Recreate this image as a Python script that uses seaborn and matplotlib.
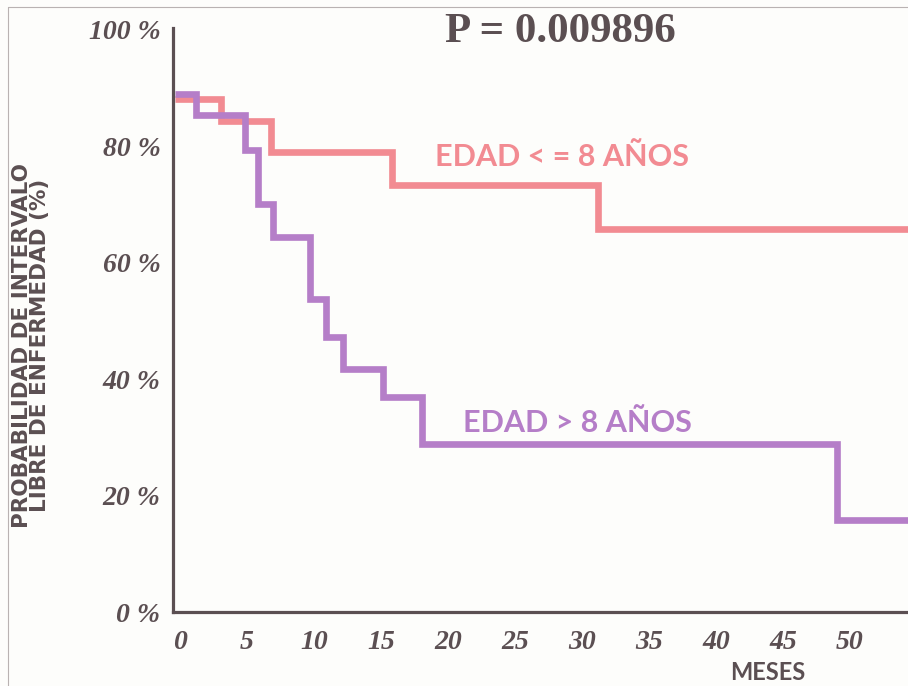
import matplotlib
matplotlib.use("Agg")
import matplotlib.pyplot as plt
import matplotlib.transforms as mtransforms
from matplotlib.lines import Line2D
import seaborn as sns
import pandas as pd

# ---- data ----
young_months = [0, 3.4, 7.2, 16.2, 31.6, 55]
young_surv = [88.1, 84.4, 79.0, 73.4, 65.8, 65.8]
old_months = [0, 1.6, 5.2, 6.2, 7.3, 10.1, 11.3, 12.5, 15.5, 18.4, 49.4, 55]
old_surv = [89.0, 85.4, 79.4, 70.0, 64.4, 53.8, 47.3, 41.8, 36.9, 28.9, 15.8, 15.8]
group_labels = ["EDAD < = 8 AÑOS", "EDAD > 8 AÑOS"]
x_ticks = [0, 5, 10, 15, 20, 25, 30, 35, 40, 45, 50]
y_ticks = [0, 20, 40, 60, 80, 100]
y_tick_labels = ["0 %", "20 %", "40 %", "60 %", "80 %", "100 %"]
p_text = "P = 0.009896"

pink = "#f28b92"
purple = "#b57ec8"
ink = "#5b4f52"

df = pd.concat([
    pd.DataFrame({"meses": young_months, "prob": young_surv, "grupo": group_labels[0]}),
    pd.DataFrame({"meses": old_months, "prob": old_surv, "grupo": group_labels[1]}),
], ignore_index=True)

sns.set_theme(style="white")
fig = plt.figure(figsize=(9.08, 6.86), dpi=100, facecolor="#fdfdfb")
ax = fig.add_axes([173/908, 74/686, (908-173)/908, (612-28)/686])
ax.set_facecolor("#fdfdfb")

sns.lineplot(data=df, x="meses", y="prob", hue="grupo",
             palette={group_labels[0]: pink, group_labels[1]: purple},
             drawstyle="steps-post", linewidth=4.8, legend=False, ax=ax,
             estimator=None, sort=False)
for ln in ax.lines:
    ln.set_solid_joinstyle("miter")
    ln.set_solid_capstyle("butt")

ax.set_xlim(-0.15, 54.7)
ax.set_ylim(0, 100.3)

for s in ["top", "right"]:
    ax.spines[s].set_visible(False)
for s in ["left", "bottom"]:
    ax.spines[s].set_color(ink)
    ax.spines[s].set_linewidth(2.3)

tick_font = dict(family="Liberation Serif", weight="bold", style="italic", size=20)
ax.set_xticks(x_ticks)
ax.set_xticklabels([str(t) for t in x_ticks], color=ink, **tick_font)
ax.set_yticks(y_ticks)
ax.set_yticklabels(y_tick_labels, color=ink, **tick_font)
ax.tick_params(axis="both", length=0)
ax.tick_params(axis="x", pad=13)
ax.tick_params(axis="y", pad=9)
off = mtransforms.ScaledTranslation(5/100, 0, fig.dpi_scale_trans)
for lbl in ax.get_xticklabels():
    lbl.set_transform(lbl.get_transform() + off)

ax.set_xlabel("")
ax.set_ylabel("")

# Titles and labels
fig.text(560/908, 1 - 32/686, p_text, ha="center", va="center",
         family="Liberation Serif", weight="bold", size=31, color=ink)
fig.text(562/908, 1 - 157/686, group_labels[0], ha="center", va="center",
         family="Lato", weight="bold", size=22, color=pink)
fig.text(577/908, 1 - 423/686, group_labels[1], ha="center", va="center",
         family="Lato", weight="bold", size=22, color=purple)
fig.text(768/908, 1 - 673/686, "MESES", ha="center", va="center",
         family="Lato", weight="bold", size=17, color=ink)
fig.text(31/908, 1 - 345/686,
         "PROBABILIDAD DE INTERVALO\nLIBRE DE ENFERMEDAD (%)",
         ha="center", va="center", rotation=90, linespacing=0.9,
         family="DejaVu Sans", weight="bold", size=15.5, color=ink)

# scanned page border lines
fig.add_artist(Line2D([8/908, 8/908], [0, 1 - 7/686], transform=fig.transFigure,
                      color="#b9b2b2", lw=0.8))
fig.add_artist(Line2D([8/908, 1], [1 - 7/686, 1 - 7/686], transform=fig.transFigure,
                      color="#b9b2b2", lw=0.8))

fig.savefig("out.png", dpi=100, facecolor=fig.get_facecolor())
